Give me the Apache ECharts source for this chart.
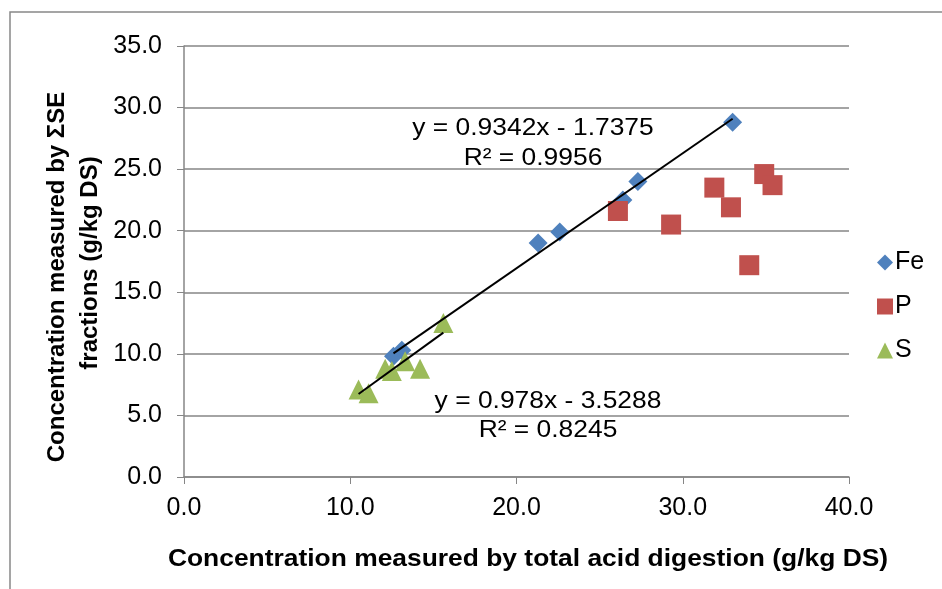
<!DOCTYPE html>
<html><head><meta charset="utf-8">
<script src="https://cdn.jsdelivr.net/npm/echarts@6/dist/echarts.min.js"></script>
<style>html,body{margin:0;padding:0;background:#fff}#c{width:942px;height:589px}</style>
</head><body><div id="c"></div>
<script>
var feX = [12.6, 13.1, 21.3, 22.6, 26.4, 27.3, 33.0];
var feY = [9.8, 10.3, 19.0, 19.9, 22.5, 24.0, 28.8];
var pX = [26.1, 29.3, 31.9, 32.9, 34.9, 35.4, 34.0];
var pY = [21.6, 20.5, 23.5, 21.9, 24.6, 23.7, 17.2];
var sX = [10.5, 11.1, 12.1, 12.5, 13.3, 14.2, 15.6];
var sY = [7.1, 6.8, 8.8, 8.6, 9.4, 8.8, 12.5];
var feFit = {slope: 0.9342, intercept: -1.7375, r2: '0.9956'};
var sFit = {slope: 0.978, intercept: -3.5288, r2: '0.8245'};
var xTicks = [0, 10, 20, 30, 40];
var yTicks = [0, 5, 10, 15, 20, 25, 30, 35];

function pairs(xs, ys){ return xs.map(function(x,i){return [x, ys[i]];}); }
function fitLine(xs, f){
  var lo = Math.min.apply(null, xs), hi = Math.max.apply(null, xs);
  return [[lo, f.slope*lo + f.intercept], [hi, f.slope*hi + f.intercept]];
}
var FONT = 'Liberation Sans, Arial, sans-serif';
var SX = 1.1;
function txt(x, y, s, font, extra){
  var o = {type: 'text', x: x, y: y, scaleX: SX, style: {text: s, font: font, fill: '#000', textAlign: 'center', textVerticalAlign: 'middle'}};
  if (extra) for (var k in extra) o[k] = extra[k];
  return o;
}
var chart = echarts.init(document.getElementById('c'));
chart.setOption({
  animation: false,
  backgroundColor: '#fff',
  grid: {left: 184, right: 93, top: 46, bottom: 112},
  xAxis: {
    type: 'value', min: 0, max: 40, interval: 10,
    axisLine: {show: true, lineStyle: {color: '#868686', width: 1.5}},
    axisTick: {show: true, length: 7, lineStyle: {color: '#868686'}},
    axisLabel: {color: '#000', fontSize: 25, fontFamily: FONT, margin: 19,
      formatter: function(v){ return v.toFixed(1); }},
    splitLine: {show: false}
  },
  yAxis: {
    type: 'value', min: 0, max: 35, interval: 5,
    axisLine: {show: true, lineStyle: {color: '#868686', width: 1.5}},
    axisTick: {show: true, length: 7, lineStyle: {color: '#868686'}},
    axisLabel: {color: '#000', fontSize: 25, fontFamily: FONT, margin: 22,
      formatter: function(v){ return v.toFixed(1); }},
    splitLine: {show: true, lineStyle: {color: '#868686', width: 1.5}}
  },
  legend: {
    orient: 'vertical', left: 872, top: 245, itemGap: 19,
    itemWidth: 16, itemHeight: 16,
    data: [{name:'Fe', icon:'diamond'}, {name:'P', icon:'rect'}, {name:'S', icon:'triangle'}],
    textStyle: {color: '#000', fontSize: 25, fontFamily: FONT, padding: [0,0,0,-3]}
  },
  graphic: [
    {type: 'rect', shape: {x: 10, y: 12, width: 1000, height: 1000}, style: {fill: 'none', stroke: '#888', lineWidth: 1.5}, z: -1},
    txt(533, 128, 'y = ' + feFit.slope + 'x - ' + Math.abs(feFit.intercept), '24px ' + FONT),
    txt(533, 158, 'R² = ' + feFit.r2, '24px ' + FONT),
    txt(548, 401, 'y = ' + sFit.slope + 'x - ' + Math.abs(sFit.intercept), '24px ' + FONT),
    txt(548, 430, 'R² = ' + sFit.r2, '24px ' + FONT),
    txt(528, 559, 'Concentration measured by total acid digestion (g/kg DS)', 'bold 24px ' + FONT),
    {type: 'text', x: 57, y: 277, rotation: Math.PI/2, style: {text: 'Concentration measured by ΣSE', font: 'bold 24px ' + FONT, fill: '#000', textAlign: 'center', textVerticalAlign: 'middle'}},
    {type: 'text', x: 90, y: 263, rotation: Math.PI/2, style: {text: 'fractions (g/kg DS)', font: 'bold 24px ' + FONT, fill: '#000', textAlign: 'center', textVerticalAlign: 'middle'}}
  ],
  series: [
    {name: 'Fe', type: 'scatter', symbol: 'diamond', symbolSize: 19, itemStyle: {color: '#4F81BD', opacity: 1}, data: pairs(feX, feY), z: 3},
    {name: 'P', type: 'scatter', symbol: 'rect', symbolSize: 20, itemStyle: {color: '#C0504D', opacity: 1}, data: pairs(pX, pY), z: 3},
    {name: 'S', type: 'scatter', symbol: 'triangle', symbolSize: 20, itemStyle: {color: '#9BBB59', opacity: 1}, data: pairs(sX, sY), z: 3},
    {name: 'Fe fit', type: 'line', symbol: 'none', silent: true, lineStyle: {color: '#000', width: 2}, data: fitLine(feX, feFit), z: 5},
    {name: 'S fit', type: 'line', symbol: 'none', silent: true, lineStyle: {color: '#000', width: 2}, data: fitLine(sX, sFit), z: 5}
  ]
});
</script></body></html>
